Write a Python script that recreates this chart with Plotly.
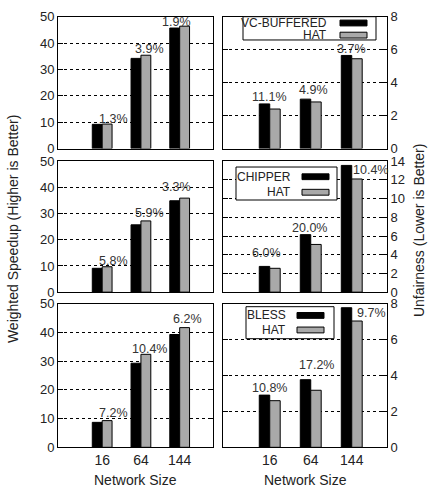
import plotly.graph_objects as go
from plotly.subplots import make_subplots

W, H = 430, 498

# ---------------- data ----------------
sizes = ["16", "64", "144"]

ws_vc = [9.2, 34.2, 45.7]
ws_hat_vc = [9.3, 35.4, 46.4]
ws_chipper = [9.1, 25.7, 34.9]
ws_hat_chipper = [9.7, 27.2, 35.9]
ws_bless = [8.7, 29.3, 39.3]
ws_hat_bless = [9.3, 32.4, 41.7]

uf_vc = [2.71, 3.00, 5.65]
uf_hat_vc = [2.40, 2.83, 5.45]
uf_chipper = [2.75, 6.15, 13.55]
uf_hat_chipper = [2.55, 5.10, 12.10]
uf_bless = [2.91, 3.77, 7.78]
uf_hat_bless = [2.60, 3.18, 7.04]

ws_pct_vc = ["1.3%", "3.9%", "1.9%"]
ws_pct_chipper = ["5.8%", "5.9%", "3.3%"]
ws_pct_bless = ["7.2%", "10.4%", "6.2%"]
uf_pct_vc = ["11.1%", "4.9%", "3.7%"]
uf_pct_chipper = ["6.0%", "20.0%", "10.4%"]
uf_pct_bless = ["10.8%", "17.2%", "9.7%"]

baselines = ["VC-BUFFERED", "CHIPPER", "BLESS"]
ours = "HAT"

# ---------------- styles / layout ----------------
FONT = "Liberation Sans"
TXT = "#222222"
BLACK = "#000000"
GRAY = "#a9a9a9"
BAR_W = 0.255
XR = [-1.14, 2.86]


def px(x):
    return x / W


def py(y):
    return 1 - y / H


col_dom = [[px(58), px(213)], [px(223), px(387)]]
row_dom = [[py(146), py(10)], [py(294), py(159)], [py(454), py(306)]]

panels = [
    # (row, col, base, hat, labels, yrange, dtick, label positions (dx, y))
    (1, 1, ws_vc, ws_hat_vc, ws_pct_vc, [0, 50], 10,
     [(0.28, 11.4), (0.23, 37.9), (-0.07, 47.8)]),
    (1, 2, uf_vc, uf_hat_vc, uf_pct_vc, [0, 8], 2,
     [(0.0, 3.15), (0.06, 3.53), (0.0, 6.03)]),
    (2, 1, ws_chipper, ws_hat_chipper, ws_pct_chipper, [0, 50], 10,
     [(0.30, 11.85), (0.23, 30.2), (-0.07, 40.0)]),
    (2, 2, uf_chipper, uf_hat_chipper, uf_pct_chipper, [0, 14], 2,
     [(-0.09, 4.2), (-0.03, 6.9), (0.45, 13.07)]),
    (3, 1, ws_bless, ws_hat_bless, ws_pct_bless, [0, 50], 10,
     [(0.30, 11.9), (0.23, 34.4), (0.20, 44.8)]),
    (3, 2, uf_bless, uf_hat_bless, uf_pct_bless, [0, 8], 2,
     [(0.0, 3.32), (0.13, 4.57), (0.47, 7.46)]),
]

fig = make_subplots(rows=3, cols=2)
xs = list(range(len(sizes)))
annotations = []

for (r, c, base, hat, labels, yr, dt, lpos) in panels:
    fig.add_trace(go.Bar(x=xs, y=base, width=BAR_W, offset=-BAR_W,
                         marker=dict(color=BLACK, line=dict(color=BLACK, width=1)),
                         showlegend=False, hoverinfo="skip"), row=r, col=c)
    fig.add_trace(go.Bar(x=xs, y=hat, width=BAR_W, offset=0,
                         marker=dict(color=GRAY, line=dict(color=BLACK, width=1)),
                         showlegend=False, hoverinfo="skip"), row=r, col=c)
    idx = (r - 1) * 2 + c
    xref = "x" if idx == 1 else f"x{idx}"
    yref = "y" if idx == 1 else f"y{idx}"
    for i, (lab, (dx, yy)) in enumerate(zip(labels, lpos)):
        annotations.append(dict(x=xs[i] + dx, y=yy, xref=xref, yref=yref,
                                text=lab, showarrow=False,
                                font=dict(family=FONT, size=12.5, color="#333333"),
                                xanchor="center", yanchor="middle"))
    fig.update_xaxes(domain=col_dom[c - 1], range=XR, showgrid=False,
                     zeroline=False, showline=True, linecolor=BLACK, linewidth=1,
                     mirror=True, ticks="", tickvals=xs, ticktext=sizes,
                     showticklabels=(r == 3),
                     tickfont=dict(family=FONT, size=14, color=TXT),
                     row=r, col=c)
    fig.update_yaxes(domain=row_dom[r - 1], range=yr, dtick=dt, tick0=0,
                     showgrid=True, gridcolor="#000000", griddash="dot",
                     gridwidth=1, zeroline=False, showline=True,
                     linecolor=BLACK, linewidth=1, mirror="allticks",
                     ticks="inside", ticklen=5, tickcolor=BLACK,
                     side=("left" if c == 1 else "right"),
                     tickfont=dict(family=FONT, size=13, color=TXT),
                     row=r, col=c)

# legends (gnuplot style: text then swatch, in a box)
legend_boxes = [
    # box (x0,y0,x1,y1), text right edge, rows y centre, swatch x0,x1
    ((243, 10, 376, 34), 329, (16.5, 29), (340, 367)),
    ((236, 165, 337, 199), 293, (175, 191), (302, 329)),
    ((246, 309, 334, 342), 288, (318, 333), (297, 324)),
]
shapes = []
for (name, (box, tx, (ya, yb), (sx0, sx1))) in zip(baselines, legend_boxes):
    x0, y0, x1, y1 = box
    shapes.append(dict(type="rect", xref="paper", yref="paper",
                       x0=px(x0), x1=px(x1), y0=py(y1), y1=py(y0),
                       line=dict(color=BLACK, width=1), fillcolor="white",
                       layer="above"))
    for yc, fill, lab in ((ya, BLACK, name), (yb, GRAY, ours)):
        shapes.append(dict(type="rect", xref="paper", yref="paper",
                           x0=px(sx0), x1=px(sx1), y0=py(yc + 3), y1=py(yc - 3),
                           line=dict(color=BLACK, width=1), fillcolor=fill,
                           layer="above"))
        annotations.append(dict(x=px(tx), y=py(yc), xref="paper", yref="paper",
                                text=lab, showarrow=False, xanchor="right",
                                yanchor="middle",
                                font=dict(family=FONT, size=12, color=TXT)))

# axis titles
annotations.append(dict(x=px(13), y=py(229), xref="paper", yref="paper",
                        text="Weighted Speedup (Higher is Better)", textangle=-90,
                        showarrow=False, xanchor="center", yanchor="middle",
                        font=dict(family=FONT, size=14, color=TXT)))
annotations.append(dict(x=px(419), y=py(230), xref="paper", yref="paper",
                        text="Unfairness (Lower is Better)", textangle=-90,
                        showarrow=False, xanchor="center", yanchor="middle",
                        font=dict(family=FONT, size=14, color=TXT)))
for cx in (135.5, 305):
    annotations.append(dict(x=px(cx), y=py(488), xref="paper", yref="paper",
                            text="Network Size", showarrow=False,
                            xanchor="center", yanchor="middle",
                            font=dict(family=FONT, size=14, color=TXT)))

fig.update_layout(width=W, height=H, margin=dict(l=0, r=0, t=0, b=0),
                  plot_bgcolor="white", paper_bgcolor="white",
                  showlegend=False, annotations=annotations, shapes=shapes,
                  font=dict(family=FONT, color=TXT))

fig.write_html("out.html", config={"displayModeBar": False},
               post_script="document.body.style.margin='0';"
                           "document.body.style.padding='0';"
                           "document.documentElement.style.overflow='hidden';")
